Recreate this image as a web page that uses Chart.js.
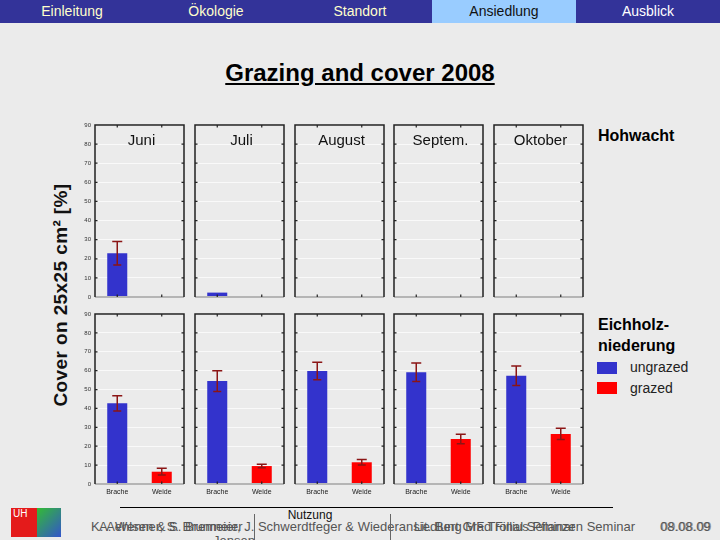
<!DOCTYPE html>
<html>
<head>
<meta charset="utf-8">
<script src="https://cdn.jsdelivr.net/npm/chart.js@4.4.1/dist/chart.umd.min.js"></script>
<style>
  body { margin: 0; width: 720px; height: 540px; background: #ebebeb; font-family: Arial, "Liberation Sans", sans-serif; position: relative; overflow: hidden; }
  .abs { position: absolute; white-space: nowrap; }
  #nav { position: absolute; left: 0; top: 0; width: 720px; height: 23px; background: #333399; }
  .tab { position: absolute; top: 0; height: 23px; width: 144px; text-align: center; font-size: 14px; line-height: 23px; color: #ffffcc; }
  .tab.active { background: #99ccff; color: #111; }
  canvas { position: absolute; }
  .month { position: absolute; font-size: 15px; color: #111; text-align: center; width: 89px; top: 131px; }
  .side { font-size: 16px; font-weight: bold; color: #000; line-height: 21px; }
  .foot { font-size: 13px; color: #555; }
</style>
</head>
<body>
<div id="nav">
  <div class="tab" style="left:0">Einleitung</div>
  <div class="tab" style="left:144px">Ökologie</div>
  <div class="tab" style="left:288px">Standort</div>
  <div class="tab active" style="left:432px">Ansiedlung</div>
  <div class="tab" style="left:576px;color:#fff">Ausblick</div>
</div>

<div class="abs" style="left:0;width:720px;top:59px;text-align:center;font-size:24px;font-weight:bold;text-decoration:underline;color:#000">Grazing and cover 2008</div>

<div class="abs" style="left:61px;top:295px;transform:translate(-50%,-50%) rotate(-90deg);font-size:19px;font-weight:bold;letter-spacing:0.4px;color:#111">Cover on 25x25 cm² [%]</div>

<div class="abs side" style="left:598px;top:125px">Hohwacht</div>
<div class="abs side" style="left:598px;top:314px">Eichholz-<br>niederung</div>
<div class="abs" style="left:597px;top:362px;width:20px;height:12px;background:#3333cc"></div>
<div class="abs" style="left:630px;top:359px;font-size:14px;color:#222">ungrazed</div>
<div class="abs" style="left:597px;top:382px;width:20px;height:12px;background:#ff0000"></div>
<div class="abs" style="left:630px;top:380px;font-size:14px;color:#222">grazed</div>

<div class="abs" style="left:120px;top:507px;width:493px;height:1px;background:#000"></div>
<div class="abs" style="left:310px;top:508px;transform:translateX(-50%);font-size:12px;color:#111">Nutzung</div>

<div class="abs" style="left:11px;top:508px;width:26px;height:29px;background:#e41b1b;color:#fff;font-size:10px;padding-left:2px;box-sizing:border-box">UH</div>
<div class="abs" style="left:37px;top:508px;width:24px;height:29px;background:linear-gradient(135deg,#33bb33,#3355cc)"></div>

<div class="abs foot" style="left:91px;top:519px">K. Aehlsen &amp; S. Bremeier, J. Schwerdtfeger &amp; Wiederansiedlung MF Trollius Pflanzen Seminar</div>
<div class="abs foot" style="left:99px;top:519px">A. Wenner, S. Brunmeier</div>
<div class="abs foot" style="left:414px;top:519px">Lit. Bert Grad Final Seminar</div>
<div class="abs foot" style="left:213px;top:533px">Jensen</div>
<div class="abs" style="left:254px;top:514px;width:1px;height:26px;background:#666"></div>
<div class="abs" style="left:390px;top:514px;width:1px;height:26px;background:#666"></div>
<div class="abs foot" style="left:660px;top:519px">08.08.09</div>
<div class="abs foot" style="left:661px;top:519px;opacity:0.6">09.08.09</div>

<script>
// Monate und Kategorien
const months = ['Juni', 'Juli', 'August', 'Septem.', 'Oktober'];
const categories = ['Brache', 'Weide'];
const yTicks = [0, 10, 20, 30, 40, 50, 60, 70, 80, 90];

// Hohwacht (obere Reihe)
const hohBrache = [22.9, 2.3, 0, 0, 0];
const hohBracheErr = [6.2, 0, 0, 0, 0];
const hohWeide = [0, 0, 0, 0, 0];
const hohWeideErr = [0, 0, 0, 0, 0];

// Eichholzniederung (untere Reihe)
const eichBrache = [42.7, 54.5, 59.8, 59.1, 57.3];
const eichBracheErr = [4.0, 5.5, 4.6, 4.9, 5.2];
const eichWeide = [6.5, 9.5, 11.5, 23.8, 26.5];
const eichWeideErr = [1.8, 0.9, 1.5, 2.5, 3.0];

const panelX = [95, 195, 295, 394, 494];
const panelW = 89;
const axisW = 16;
const padTop = 5;

// Rahmen, Tickmarken, Y-Beschriftung und Fehlerbalken
const framePlugin = {
  id: 'frame',
  afterDatasetsDraw(chart) {
    const { ctx, chartArea: a, scales } = chart;
    const opts = chart.options.plugins.frame;
    const errs = opts.errors;
    const meta = chart.getDatasetMeta(0);
    ctx.save();
    // Fehlerbalken
    ctx.strokeStyle = '#8b1515';
    ctx.lineWidth = 1.5;
    meta.data.forEach((bar, i) => {
      const v = chart.data.datasets[0].data[i];
      const e = errs[i];
      if (!e) return;
      const yTop = scales.y.getPixelForValue(v + e);
      const yBot = scales.y.getPixelForValue(Math.max(0, v - e));
      ctx.beginPath();
      ctx.moveTo(bar.x, yBot); ctx.lineTo(bar.x, yTop);
      ctx.moveTo(bar.x - 5, yTop); ctx.lineTo(bar.x + 5, yTop);
      ctx.moveTo(bar.x - 4, yBot); ctx.lineTo(bar.x + 4, yBot);
      ctx.stroke();
    });
    // Rahmen
    ctx.strokeStyle = '#b5b5b5';
    ctx.lineWidth = 2;
    ctx.beginPath();
    ctx.moveTo(a.left, a.bottom); ctx.lineTo(a.right, a.bottom);
    ctx.stroke();
    ctx.strokeStyle = '#222';
    ctx.lineWidth = 1.5;
    ctx.beginPath();
    ctx.moveTo(a.left, a.bottom); ctx.lineTo(a.left, a.top);
    ctx.lineTo(a.right, a.top); ctx.lineTo(a.right, a.bottom);
    ctx.stroke();
    // kleine Ticks innen
    ctx.lineWidth = 1.2;
    ctx.beginPath();
    yTicks.forEach(t => {
      if (t === 0 || t === 90) return;
      const y = scales.y.getPixelForValue(t);
      ctx.moveTo(a.left, y); ctx.lineTo(a.left + 2.5, y);
      ctx.moveTo(a.right, y); ctx.lineTo(a.right - 2.5, y);
    });
    categories.forEach((c, i) => {
      const x = scales.x.getPixelForValue(i);
      ctx.moveTo(x, a.top); ctx.lineTo(x, a.top + 2.5);
      ctx.moveTo(x, a.bottom); ctx.lineTo(x, a.bottom - 2.5);
    });
    ctx.stroke();
    // Y-Beschriftung nur in der ersten Spalte
    if (opts.showY) {
      ctx.fillStyle = '#333';
      ctx.font = '6px Arial';
      ctx.textAlign = 'right';
      ctx.textBaseline = 'middle';
      yTicks.forEach(t => ctx.fillText(String(t), a.left - 4, scales.y.getPixelForValue(t)));
    }
    ctx.restore();
  }
};

function makePanel(row, col, values, errors) {
  const plotH = row === 0 ? 172 : 170;
  const xH = row === 0 ? 6 : 16;
  const top = row === 0 ? 125 : 314;
  const canvas = document.createElement('canvas');
  const w = axisW + panelW + 2;
  const h = padTop + plotH + xH;
  canvas.width = w; canvas.height = h;
  canvas.style.left = (panelX[col] - axisW) + 'px';
  canvas.style.top = (top - padTop) + 'px';
  canvas.style.width = w + 'px';
  canvas.style.height = h + 'px';
  document.body.appendChild(canvas);

  new Chart(canvas, {
    type: 'bar',
    data: {
      labels: categories,
      datasets: [{
        data: values,
        backgroundColor: ['#3333cc', '#ff0000'],
        borderWidth: 0,
        barPercentage: 0.45,
        categoryPercentage: 1
      }]
    },
    options: {
      responsive: false,
      animation: false,
      devicePixelRatio: 1,
      layout: { padding: { top: padTop, right: 2, left: 0, bottom: 0 } },
      plugins: {
        legend: { display: false },
        tooltip: { enabled: false },
        frame: { errors: errors, showY: col === 0 }
      },
      scales: {
        x: {
          grid: { display: false, drawTicks: false, tickLength: 0 },
          border: { display: false },
          ticks: {
            display: row === 1,
            color: '#222',
            font: { size: 7, family: 'Arial' },
            padding: 4,
            maxRotation: 0
          },
          afterFit: s => { s.height = xH; }
        },
        y: {
          min: 0,
          max: 90,
          grid: { color: 'rgba(255,255,255,0.7)', drawTicks: false },
          border: { display: false },
          ticks: { stepSize: 10, display: false },
          afterFit: s => { s.width = axisW; }
        }
      }
    },
    plugins: [framePlugin]
  });
}

months.forEach((m, i) => {
  makePanel(0, i, [hohBrache[i], hohWeide[i]], [hohBracheErr[i], hohWeideErr[i]]);
  makePanel(1, i, [eichBrache[i], eichWeide[i]], [eichBracheErr[i], eichWeideErr[i]]);
  const lbl = document.createElement('div');
  lbl.className = 'month';
  lbl.style.left = (panelX[i] + 2) + 'px';
  lbl.textContent = m;
  document.body.appendChild(lbl);
});
</script>
</body>
</html>
